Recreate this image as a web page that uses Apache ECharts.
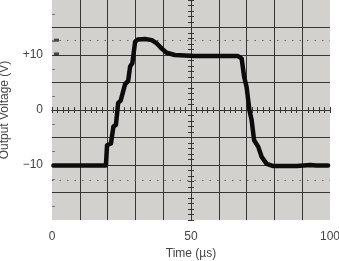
<!DOCTYPE html>
<html><head><meta charset="utf-8">
<script src="https://cdn.jsdelivr.net/npm/echarts@6/dist/echarts.min.js"></script>
<style>html,body{margin:0;padding:0;background:#fff}#c{width:339px;height:261px}</style>
</head><body><div id="c"></div>
<script>
// Data
var traceTime = [0.5, 19.4, 19.8, 21.2, 22.1, 23.0, 23.8, 24.7, 26.3, 27.4, 28.1, 28.9, 29.9, 30.8, 33.5, 35.9, 37.7, 39.4, 41.2, 44.2, 51.4, 60.0, 66.9, 68.2, 69.1, 70.0, 71.0, 71.8, 72.7, 74.2, 75.4, 77.2, 79.6, 88.0, 93.0, 95.0, 99.3];
var traceVolt = [-10.1, -10.1, -6.4, -6.1, -3.0, -2.7, 1.3, 1.7, 4.7, 5.3, 7.9, 8.5, 12.4, 12.8, 12.9, 12.7, 12.1, 11.2, 10.4, 10.0, 9.8, 9.8, 9.8, 9.4, 6.1, 4.2, 0.0, -1.8, -5.5, -6.7, -8.5, -9.8, -10.2, -10.2, -10.0, -10.1, -10.1];
var cursorLevels = [12.7, -12.7];
var markerTime = [1.6, 1.6];
var markerVolt = [12.7, 10.2];
var xTickLabels = {0: '0', 50: '50', 100: '100'};
var yTickLabels = {10: '+10', 0: '0', '-10': '\u221210'};

var trace = traceTime.map(function (t, i) { return [t, traceVolt[i]]; });
var markers = markerTime.map(function (t, i) { return [t, markerVolt[i]]; });

var GL = 52, GW = 278, GT = 0, GH = 220;
var gridCol = '#363636';
var textCol = '#444';
var font = 'Liberation Sans, Arial, sans-serif';

var centerX = function (inside) {
  return {
    type: 'value', min: 0, max: 100, interval: 10, position: 'bottom', offset: -GH / 2,
    axisLine: { show: true, onZero: false, lineStyle: { color: gridCol, width: 1 } },
    axisTick: { show: true, inside: inside, length: 3, lineStyle: { color: gridCol } },
    minorTick: { show: true, splitNumber: 5, length: 3, lineStyle: { color: gridCol } },
    axisLabel: { show: false }, splitLine: { show: false }
  };
};
var centerY = function (inside) {
  return {
    type: 'value', min: -20, max: 20, interval: 5, position: 'left', offset: -GW / 2,
    axisLine: { show: true, onZero: false, lineStyle: { color: gridCol, width: 1 } },
    axisTick: { show: true, inside: inside, length: 3, lineStyle: { color: gridCol } },
    minorTick: { show: true, splitNumber: 5, length: 3, lineStyle: { color: gridCol } },
    axisLabel: { show: false }, splitLine: { show: false }
  };
};

var chart = echarts.init(document.getElementById('c'), null, { renderer: 'canvas' });
chart.setOption({
  animation: false,
  backgroundColor: '#fff',
  grid: { left: GL, top: GT, width: GW, height: GH, show: true, backgroundColor: '#d3d1cd', borderWidth: 0, containLabel: false, outerBoundsMode: 'none' },
  xAxis: [
    {
      type: 'value', min: 0, max: 100, interval: 10,
      name: 'Time (\u00b5s)', nameLocation: 'middle', nameGap: 28,
      nameTextStyle: { color: textCol, fontSize: 12, fontFamily: font },
      axisLine: { show: false }, axisTick: { show: false },
      axisLabel: {
        color: textCol, fontSize: 12, fontFamily: font, margin: 11,
        formatter: function (v) { return xTickLabels[v] !== undefined ? xTickLabels[v] : ''; }
      },
      splitLine: { show: true, showMinLine: false, showMaxLine: false, lineStyle: { color: gridCol, width: 1 } }
    },
    centerX(false), centerX(true)
  ],
  yAxis: [
    {
      type: 'value', min: -20, max: 20, interval: 5,
      name: 'Output Voltage (V)', nameLocation: 'middle', nameGap: 41,
      nameTextStyle: { color: textCol, fontSize: 12, fontFamily: font },
      axisLine: { show: false },
      axisTick: { show: false, inside: true },
      minorTick: { show: true, splitNumber: 2, length: 3, lineStyle: { color: '#777' } },
      axisLabel: {
        color: textCol, fontSize: 12, fontFamily: font, margin: 9,
        formatter: function (v) { return yTickLabels[v] !== undefined ? yTickLabels[v] : ''; }
      },
      splitLine: { show: true, showMinLine: false, showMaxLine: false, lineStyle: { color: gridCol, width: 1 } }
    },
    centerY(false), centerY(true)
  ],
  series: [
    {
      type: 'line', data: trace, showSymbol: false, symbol: 'none',
      lineStyle: { color: '#0c0c0c', width: 4.5, cap: 'round', join: 'round' },
      z: 5,
      markLine: {
        silent: true, symbol: 'none', label: { show: false },
        lineStyle: { color: '#666', width: 1, type: [1.5, 6] },
        data: cursorLevels.map(function (v) { return { yAxis: v }; })
      }
    },
    {
      type: 'scatter', data: markers, symbol: 'rect', symbolSize: [5, 3],
      itemStyle: { color: '#222' }, z: 6, silent: true
    }
  ]
});
</script></body></html>
